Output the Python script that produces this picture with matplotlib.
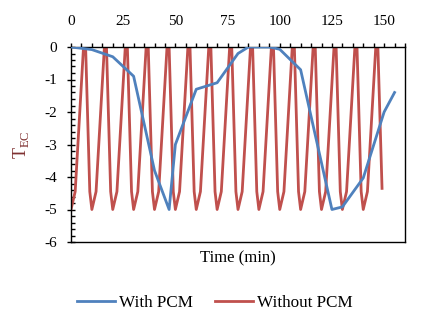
import numpy as np
import matplotlib
matplotlib.use("Agg")
from matplotlib import pyplot as plt
from matplotlib.ticker import MultipleLocator

plt.rcParams["font.family"] = ["Liberation Serif", "DejaVu Serif"]
plt.rcParams["axes.unicode_minus"] = False  # plain hyphen like Excel
plt.rcParams["mathtext.fontset"] = "custom"
plt.rcParams["mathtext.rm"] = "Liberation Serif"

# With PCM (time in min, T_EC)
t_pcm = [0, 10, 20, 30, 40, 47, 50, 60, 70, 80, 85, 95, 100, 110, 125, 130, 140, 150, 155]
v_pcm = [0, -0.08, -0.3, -0.9, -3.8, -5.0, -3.0, -1.3, -1.1, -0.2, 0, 0, -0.07, -0.7,
         -5.0, -4.92, -4.03, -2.0, -1.4]

# Without PCM (vertices)
t_nopcm = [0, 2, 6, 7, 9, 10, 12, 16, 17, 19, 20, 22, 26, 27, 29, 30, 32, 36, 37, 39,
           40, 42, 46, 47, 49, 50, 52, 56, 57, 59, 60, 62, 66, 67, 69, 70, 72, 76, 77, 79,
           80, 82, 86, 87, 89, 90, 92, 96, 97, 99, 100, 102, 106, 107, 109, 110, 112, 116,
           117, 119, 120, 122, 126, 127, 129, 130, 132, 136, 137, 139, 140, 142, 146, 147,
           149]
v_nopcm = [-5.0, -4.45, 0, 0, -4.45, -5.0, -4.45, 0, 0, -4.45, -5.0, -4.45, 0, 0, -4.45,
           -5.0, -4.45, 0, 0, -4.45, -5.0, -4.45, 0, 0, -4.45, -5.0, -4.45, 0, 0, -4.45,
           -5.0, -4.45, 0, 0, -4.45, -5.0, -4.45, 0, 0, -4.45, -5.0, -4.45, 0, 0, -4.45,
           -5.0, -4.45, 0, 0, -4.45, -5.0, -4.45, 0, 0, -4.45, -5.0, -4.45, 0, 0, -4.45,
           -5.0, -4.45, 0, 0, -4.45, -5.0, -4.45, 0, 0, -4.45, -5.0, -4.45, 0, 0, -4.35]

x_major = [0, 25, 50, 75, 100, 125, 150]

fig = plt.figure(figsize=(4.26, 3.24), dpi=100)
ax = fig.add_axes([71 / 426, 82 / 324, 334 / 426, 195 / 324])

ax.plot(t_pcm, v_pcm, color="#4F81BD", lw=2.0, label="With PCM", zorder=3)
ax.plot(t_nopcm, v_nopcm, color="#C0504D", lw=2.0, label="Without PCM", zorder=2)

ax.set_xlim(0, 160)
ax.set_ylim(-6, 0)
ax.xaxis.tick_top()
ax.set_xticks(x_major)
ax.xaxis.set_minor_locator(MultipleLocator(5))
ax.yaxis.set_major_locator(MultipleLocator(1))
ax.yaxis.set_minor_locator(MultipleLocator(0.2))
ax.tick_params(axis="x", which="both", direction="out", length=2.6, width=1,
               labelsize=11, pad=11)
ax.tick_params(axis="y", which="major", direction="inout", length=5.8, width=1,
               labelsize=11, pad=7)
ax.tick_params(axis="y", which="minor", direction="in", length=2.8, width=1)
for s in ax.spines.values():
    s.set_linewidth(1)

ax.set_xlabel("Time (min)", fontsize=12)
ax.xaxis.set_label_position("bottom")
ax.xaxis.labelpad = 6
ax.set_ylabel(r"T$_{\mathrm{EC}}$", fontsize=13, color="#7F3030", labelpad=10)

fig.legend(loc="center", bbox_to_anchor=(215 / 426, 1 - 302.7 / 324), ncol=2,
           frameon=False, fontsize=12.3, handlelength=2.2, handletextpad=0.25,
           columnspacing=1.3)

fig.savefig("out.png", dpi=100)
